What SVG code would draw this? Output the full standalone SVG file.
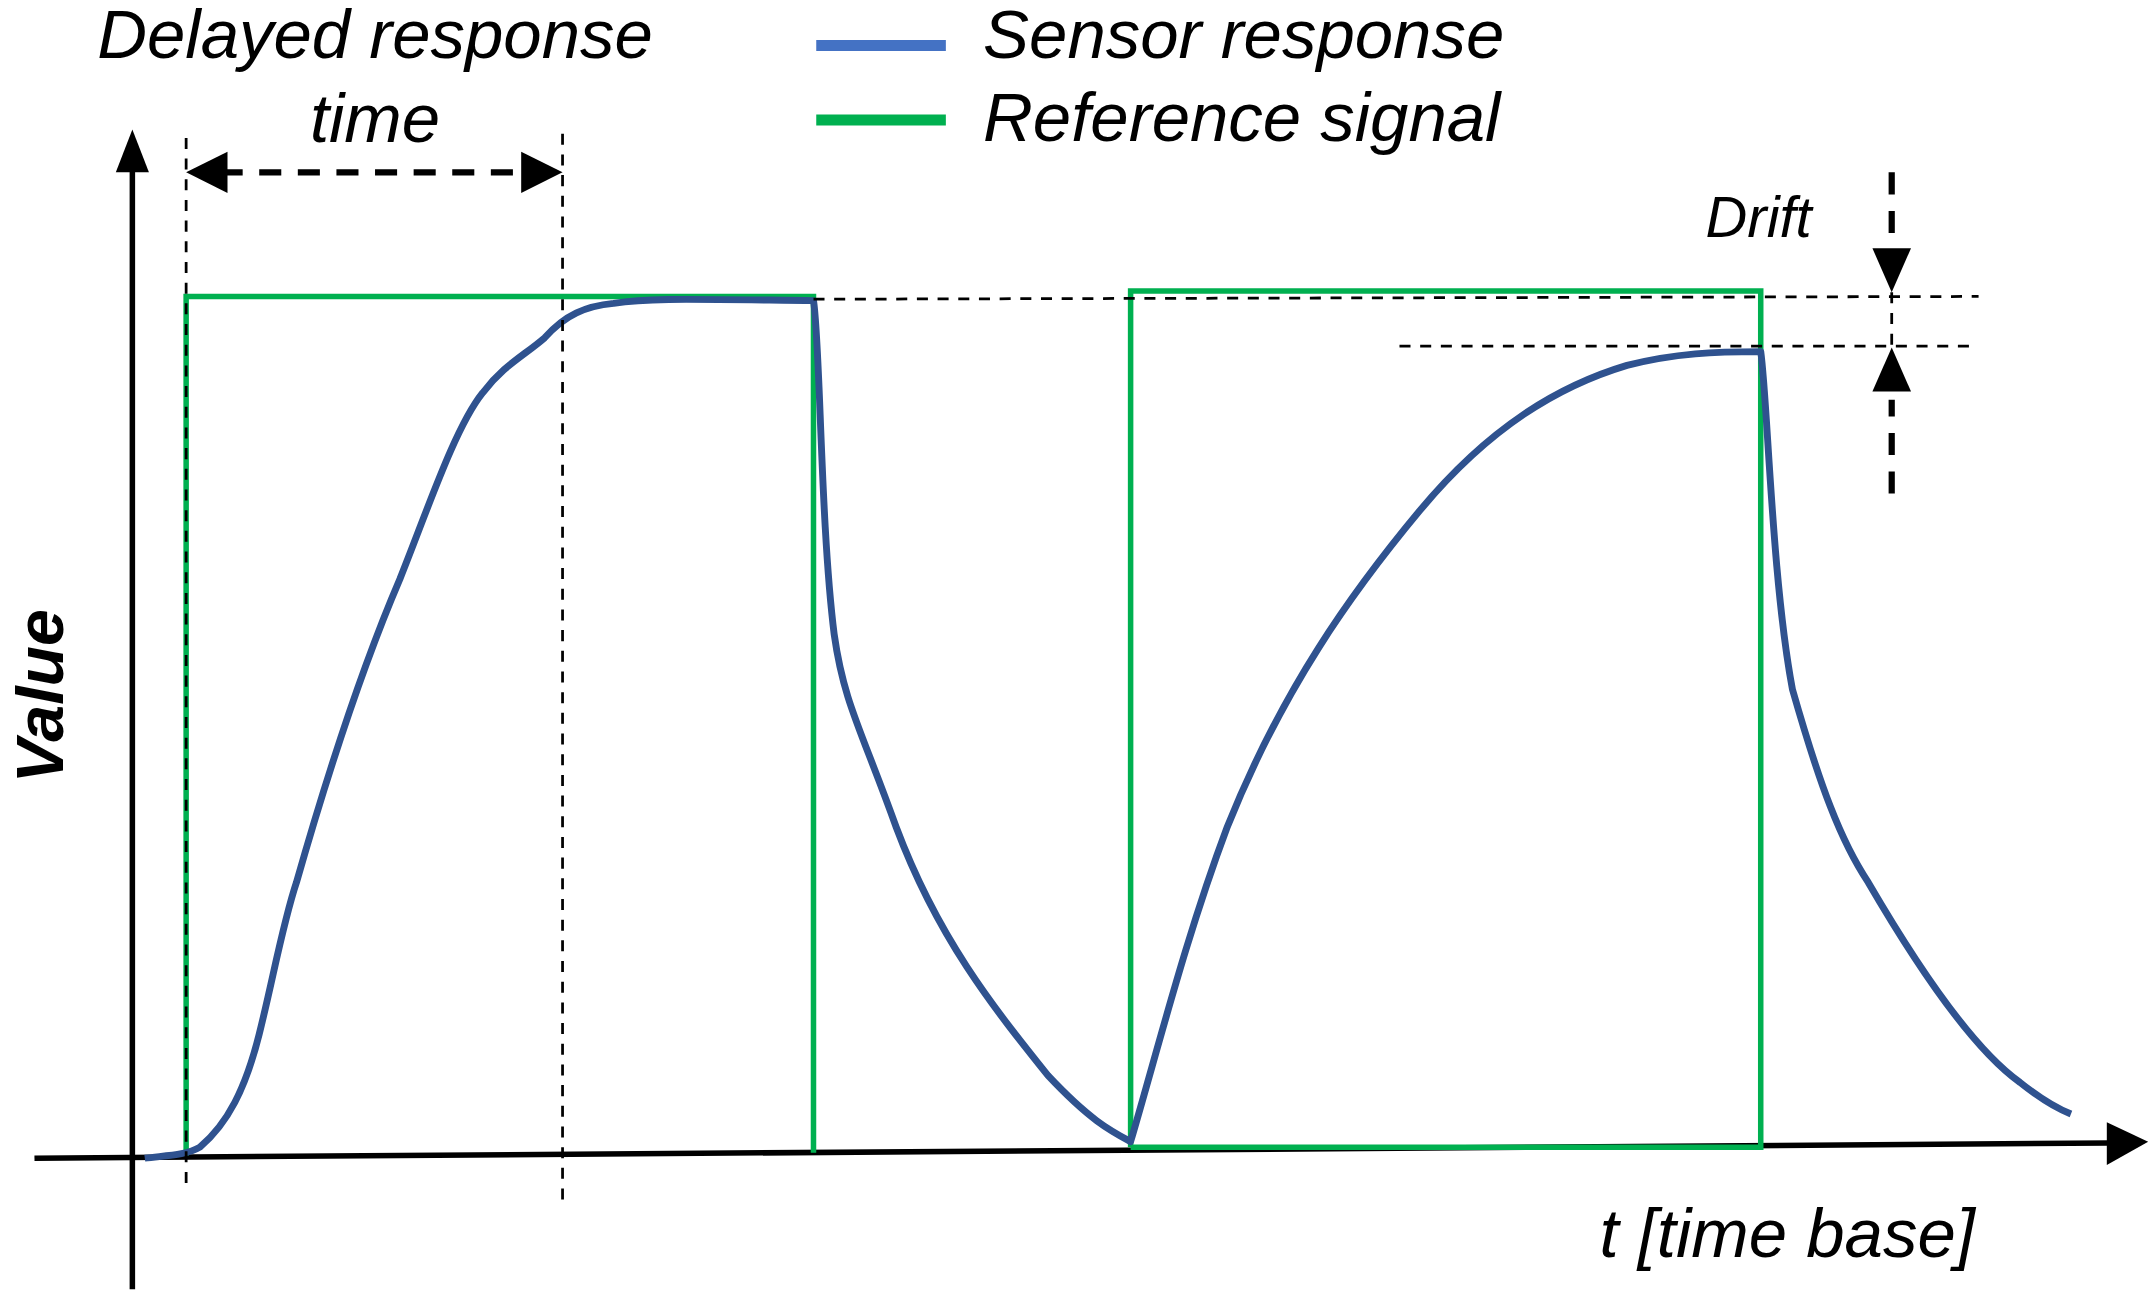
<svg xmlns="http://www.w3.org/2000/svg" width="2151" height="1295" viewBox="0 0 2151 1295">
<style>
text{font-family:"Liberation Sans",Arial,sans-serif;font-style:italic;fill:#000}
.ref{fill:none;stroke:#00b050;stroke-width:4}
.sen{fill:none;stroke:#2f528f;stroke-width:5;stroke-linejoin:round}
.thin{stroke:#000;stroke-width:2;stroke-dasharray:8 7;fill:none}
.thick{stroke:#000;stroke-width:4.5;stroke-dasharray:16 12;fill:none}
</style>
<rect width="2151" height="1295" fill="#fff"/>
<g transform="scale(1.3788)">
<g id="axes">
<line x1="96" y1="935" x2="96" y2="120" stroke="#000" stroke-width="4"/>
<path d="M96,94L84,125L108,125z"/>
<line x1="25" y1="840" x2="1530" y2="829" stroke="#000" stroke-width="4"/>
<path d="M1558,828L1528,814L1528,845z"/>
</g>
<g id="reference">
<path class="ref" d="M135,838V215H590V836"/>
<path class="ref" d="M820,832V211H1277V832H820"/>
</g>
<g id="sensor">
<path class="sen" d="M105,840 C120,838 135,838 145,832 C165,815 178,790 188,750 C198,710 205,670 215,640 C235,570 260,490 290,420 C310,370 330,310 350,285 C365,265 380,258 395,245 C410,228 425,222 445,220 C470,216 500,217 590,218 C595,250 595,380 605,460 C612,510 625,530 650,600 C680,680 720,730 760,780 C790,812 805,820 820,828 C840,760 860,680 890,600 C930,500 980,430 1030,370 C1080,310 1130,280 1180,265 C1215,256 1245,255 1277,255 C1282,290 1285,420 1300,500 C1320,570 1335,610 1355,640 C1390,700 1430,760 1465,785 C1480,797 1492,804 1502,808"/>
</g>
<g id="connectors">
<line class="thin" x1="135" y1="100" x2="135" y2="865"/>
<line class="thin" x1="408" y1="97" x2="408" y2="875"/>
<line class="thin" x1="590" y1="217" x2="1435" y2="215"/>
<line class="thin" x1="1015" y1="251" x2="1435" y2="251"/>
<line class="thick" x1="160" y1="125" x2="385" y2="125"/>
<path d="M135,125L165,110L165,140z"/>
<path d="M408,125L378,110L378,140z"/>
<line class="thick" x1="1372" y1="125" x2="1372" y2="185"/>
<path d="M1372,212L1358,180L1386,180z"/>
<line x1="1372" y1="212" x2="1372" y2="252" stroke="#000" stroke-width="2" stroke-dasharray="8 7"/>
<path d="M1372,252L1358,284L1386,284z"/>
<line class="thick" x1="1372" y1="290" x2="1372" y2="358" stroke-dashoffset="4"/>
</g>
<g id="legend">
<line x1="592" y1="33" x2="686" y2="33" stroke="#4472c4" stroke-width="8"/>
<line x1="592" y1="87" x2="686" y2="87" stroke="#00b050" stroke-width="8"/>
<text x="713" y="42" font-size="50">Sensor response</text>
<text x="713" y="102" font-size="50">Reference signal</text>
</g>
<g id="labels">
<text x="272" y="42" font-size="50" text-anchor="middle">Delayed response</text>
<text x="272" y="103" font-size="50" text-anchor="middle">time</text>
<text x="1237" y="172" font-size="42">Drift</text>
<text x="1160" y="912" font-size="50">t [time base]</text>
<text transform="translate(46,505) rotate(-90)" font-size="48" font-weight="bold" text-anchor="middle">Value</text>
</g>
</g>
</svg>
